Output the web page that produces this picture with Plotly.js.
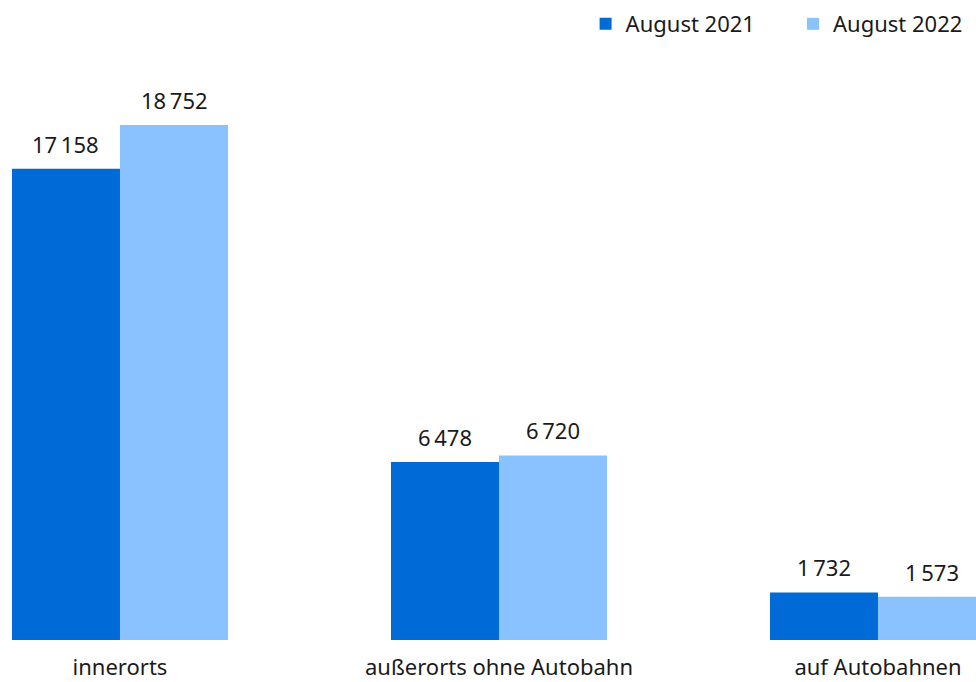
<!DOCTYPE html>
<html>
<head>
<meta charset="utf-8">
<script src="https://cdn.plot.ly/plotly-3.0.1.min.js"></script>
<style>html,body{margin:0;padding:0;background:#fff;}#chart{width:976px;height:682px;}</style>
</head>
<body>
<div id="chart"></div>
<script>
const categories = ["innerorts", "außerorts ohne Autobahn", "auf Autobahnen"];
const series2021 = [17158, 6478, 1732];
const series2022 = [18752, 6720, 1573];
const seriesNames = ["August 2021", "August 2022"];

const fmt = v => String(v).replace(/\B(?=(\d{3})+(?!\d))/g, "\u202F");
const FONT = "Noto Sans, DejaVu Sans, sans-serif";
const TXT = "#1a1a1a";
const bargap = 0.43;
const off = (1 - bargap) / 4;

const traces = [
  {type: "bar", name: seriesNames[0], x: categories, y: series2021, legend: "legend",
   marker: {color: "#006AD6"}, hoverinfo: "none"},
  {type: "bar", name: seriesNames[1], x: categories, y: series2022, legend: "legend2",
   marker: {color: "#89C2FF"}, hoverinfo: "none"}
];

const annotations = [];
[series2021, series2022].forEach((s, si) => {
  s.forEach((v, i) => {
    annotations.push({
      xref: "x", yref: "y", x: i + (si === 0 ? -off : off), y: v,
      text: fmt(v), showarrow: false, yanchor: "bottom", xanchor: "center",
      yshift: 8, font: {family: FONT, size: 22, color: TXT}
    });
  });
});

const legendBase = {orientation: "h", y: 1.062, yanchor: "middle",
  font: {family: FONT, size: 22, color: TXT}, bgcolor: "rgba(0,0,0,0)", borderwidth: 0};

const layout = {
  width: 976, height: 682,
  margin: {l: 0, r: 0, t: 60, b: 42},
  paper_bgcolor: "#fff", plot_bgcolor: "#fff",
  barmode: "group", bargap: bargap, bargroupgap: 0,
  font: {family: FONT, size: 22, color: TXT},
  showlegend: true,
  legend: Object.assign({}, legendBase, {x: 0.6, xanchor: "left"}),
  legend2: Object.assign({}, legendBase, {x: 0.9918, xanchor: "right"}),
  xaxis: {type: "category", range: [-0.3166, 2.2586], showgrid: false, zeroline: false,
          showline: false, ticks: "", ticklabelstandoff: 12,
          tickfont: {family: FONT, size: 22, color: TXT},
          automargin: false, fixedrange: true},
  yaxis: {range: [0, 21121], visible: false, showgrid: false, zeroline: false,
          automargin: false, fixedrange: true},
  annotations: annotations
};

Plotly.newPlot("chart", traces, layout, {displayModeBar: false, staticPlot: true});
</script>
</body>
</html>
